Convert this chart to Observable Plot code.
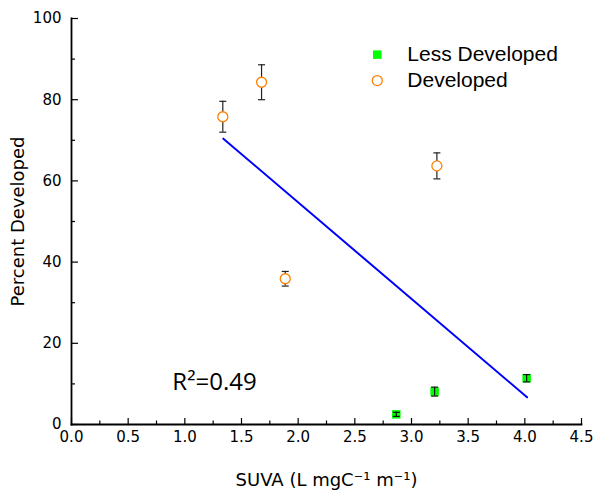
<!DOCTYPE html>
<html><head><meta charset="utf-8">
<script src="https://cdn.jsdelivr.net/npm/d3@7"></script>
<script src="https://cdn.jsdelivr.net/npm/@observablehq/plot@0.6"></script>
<style>body{margin:0;background:#fff}</style>
</head><body><div id="chart"></div>
<script>
// Data
const devSUVA = [1.335, 1.677, 1.886, 3.224];
const devPct  = [75.8, 84.3, 35.9, 63.7];
const devErr  = [3.8, 4.3, 1.8, 3.2];
const lessSUVA = [2.866, 3.204, 4.016];
const lessPct  = [2.5, 8.1, 11.4];
const lessErr  = [0.5, 1.1, 0.9];
const fitSUVA = [1.34, 4.02];
const fitPct  = [70.4, 6.7];
const xTicks = [0, 0.5, 1, 1.5, 2, 2.5, 3, 3.5, 4, 4.5];
const xMinor = [0.25, 0.75, 1.25, 1.75, 2.25, 2.75, 3.25, 3.75, 4.25];
const yTicks = [0, 20, 40, 60, 80, 100];
const yMinor = [10, 30, 50, 70, 90];
const seriesNames = ["Less Developed", "Developed"];
const r2Label = "R\u00B2=0.49";
const xTitle = "SUVA (L mgC\u207B\u00B9 m\u207B\u00B9)";
const yTitle = "Percent Developed";

const dev = devSUVA.map((x, i) => ({x, y: devPct[i], e: devErr[i]}));
const less = lessSUVA.map((x, i) => ({x, y: lessPct[i], e: lessErr[i]}));
const fit = fitSUVA.map((x, i) => ({x, y: fitPct[i]}));

const capSymbol = {draw(ctx) { ctx.moveTo(-3.5, 0); ctx.lineTo(3.5, 0); }};
const tickFont = "DejaVu Sans";

const chart = Plot.plot({
  width: 593, height: 493,
  marginLeft: 71, marginRight: 12, marginTop: 18, marginBottom: 69,
  style: {fontFamily: tickFont, background: "white"},
  x: {domain: [0, 4.5]},
  y: {domain: [0, 100]},
  marks: [
    Plot.axisX(xTicks, {tickSize: 0, tickPadding: 7, tickFormat: d3.format(".1f"), fontSize: 15, fill: "black", label: null}),
    Plot.axisX(xTicks, {tickSize: -6, text: null, stroke: "black", strokeWidth: 1.2, label: null}),
    Plot.axisX(xMinor, {tickSize: -3.5, text: null, stroke: "black", strokeWidth: 1.2, label: null}),
    Plot.axisY(yTicks, {tickSize: 0, tickPadding: 10, fontSize: 15, fill: "black", label: null}),
    Plot.axisY(yTicks, {tickSize: -7, text: null, stroke: "black", strokeWidth: 1.2, label: null}),
    Plot.axisY(yMinor, {tickSize: -4, text: null, stroke: "black", strokeWidth: 1.2, label: null}),
    Plot.frame({anchor: "bottom", stroke: "black", strokeWidth: 1.8}),
    Plot.frame({anchor: "left", stroke: "black", strokeWidth: 1.8}),
    Plot.line(fit, {x: "x", y: "y", stroke: "#0000ff", strokeWidth: 2}),
    // Developed: error bars then open circles
    Plot.ruleX(dev, {x: "x", y1: d => d.y - d.e, y2: d => d.y + d.e, stroke: "#222", strokeWidth: 1.2}),
    Plot.dot(dev, {x: "x", y: d => d.y + d.e, symbol: capSymbol, stroke: "#222", strokeWidth: 1.2}),
    Plot.dot(dev, {x: "x", y: d => d.y - d.e, symbol: capSymbol, stroke: "#222", strokeWidth: 1.2}),
    Plot.dot(dev, {x: "x", y: "y", r: 5, stroke: "#ff8000", fill: "white", strokeWidth: 1.3}),
    // Less developed: squares then error bars
    Plot.dot(less, {x: "x", y: "y", symbol: "square", r: 4.8, fill: "#00ff00", stroke: "none"}),
    Plot.ruleX(less, {x: "x", y1: d => d.y - d.e, y2: d => d.y + d.e, stroke: "#111", strokeWidth: 1.2}),
    Plot.dot(less, {x: "x", y: d => d.y + d.e, symbol: capSymbol, stroke: "#111", strokeWidth: 1.2}),
    Plot.dot(less, {x: "x", y: d => d.y - d.e, symbol: capSymbol, stroke: "#111", strokeWidth: 1.2}),
    // Legend
    Plot.dot([seriesNames[0]], {x: 2.698, y: 91.1, symbol: "square", r: 4.8, fill: "#00ff00"}),
    Plot.dot([seriesNames[1]], {x: 2.698, y: 84.7, r: 5, stroke: "#ff8000", fill: "white", strokeWidth: 1.3}),
    Plot.text([seriesNames[0]], {x: 2.963, y: 91.1, text: d => d, textAnchor: "start", fontSize: 21, fontFamily: "Liberation Sans", fill: "black"}),
    Plot.text([seriesNames[1]], {x: 2.963, y: 84.7, text: d => d, textAnchor: "start", fontSize: 21, fontFamily: "Liberation Sans", fill: "black"}),
    // R squared
    Plot.text([r2Label], {x: 0.89, y: 10.5, text: d => d, textAnchor: "start", fontSize: 24, fontFamily: "Open Sans", fill: "black"}),
    // Axis titles
    Plot.text([xTitle], {frameAnchor: "bottom", textAnchor: "middle", dy: 61, text: d => d, fontSize: 18, fill: "black"}),
    Plot.text([yTitle], {frameAnchor: "left", textAnchor: "middle", dx: -53, rotate: -90, text: d => d, fontSize: 18, fill: "black"})
  ]
});
document.getElementById("chart").append(chart);
</script>
</body></html>
